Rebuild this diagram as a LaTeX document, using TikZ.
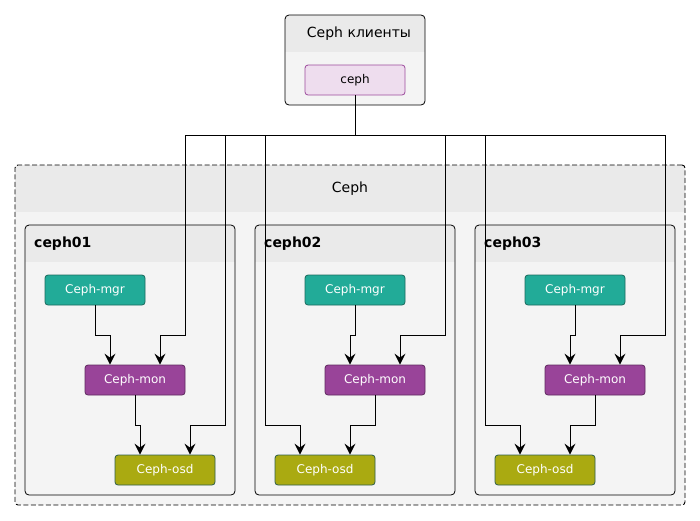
\documentclass[tikz,border=0pt]{standalone}
\usepackage{fontspec}
\setmainfont{DejaVu Sans}
\usetikzlibrary{arrows.meta}
\definecolor{pkgbg}{HTML}{F4F4F4}
\definecolor{pkghd}{HTML}{EAEAEA}
\definecolor{mgrc}{HTML}{22AB98}
\definecolor{mgrb}{HTML}{1B6A5E}
\definecolor{monc}{HTML}{994499}
\definecolor{monb}{HTML}{5E2A5E}
\definecolor{osdc}{HTML}{AAAA11}
\definecolor{osdb}{HTML}{2E5E4A}
\definecolor{clic}{HTML}{EEDDEE}
\definecolor{clib}{HTML}{9C4A9C}
\tikzset{
  svc/.style={draw, line width=0.8pt, rounded corners=3pt, minimum width=100pt, minimum height=30pt, inner sep=0pt, text=white, font=\fontsize{12}{14}\selectfont},
  mgrbox/.style={svc, fill=mgrc, draw=mgrb},
  monbox/.style={svc, fill=monc, draw=monb},
  osdbox/.style={svc, fill=osdc, draw=osdb},
  clibox/.style={svc, fill=clic, draw=clib, text=black},
  pkgtitle/.style={font=\fontsize{14}{16}\selectfont, inner sep=0pt},
  hosttitle/.style={font=\bfseries\fontsize{14}{16}\selectfont, inner sep=0pt, anchor=west},
  conn/.style={line width=1pt, -{Stealth[length=11pt,width=11pt,inset=4pt]}},
}
\begin{document}
\begin{tikzpicture}[x=1pt,y=-1pt]
\useasboundingbox (0,0) rectangle (700,520);
% clients package
\begin{scope}
  \clip[rounded corners=4pt] (285,15) rectangle (425,105);
  \fill[pkgbg] (285,15) rectangle (425,105);
  \fill[pkghd] (285,15) rectangle (425,52);
\end{scope}
\node[draw, line width=0.8pt, rounded corners=4pt, minimum width=140pt, minimum height=90pt, inner sep=0pt] (clipkg) at (355,60) {};
\node[pkgtitle] (clititle) at (359,34) {Ceph клиенты};
% Ceph outer package
\fill[pkgbg, rounded corners=3pt] (15,165) rectangle (685,505);
\begin{scope}
  \clip[rounded corners=3pt] (15,165) rectangle (685,505);
  \fill[pkghd] (15,165) rectangle (685,212);
\end{scope}
\node[draw, dash pattern=on 5pt off 2.5pt, line width=0.9pt, rounded corners=3pt, minimum width=670pt, minimum height=340pt, inner sep=0pt] (cephpkg) at (350,335) {};
\node[pkgtitle] (cephtitle) at (350,189) {Ceph};
% host packages
\foreach \n/\xa/\w in {1/25/210, 2/255/200, 3/475/200} {
  \begin{scope}
    \clip[rounded corners=4pt] (\xa,225) rectangle ({\xa+\w},495);
    \fill[pkgbg] (\xa,225) rectangle ({\xa+\w},495);
    \fill[pkghd] (\xa,225) rectangle ({\xa+\w},262);
  \end{scope}
  \node[draw, line width=0.8pt, rounded corners=4pt, minimum width=\w pt, minimum height=270pt, inner sep=0pt] (host\n) at ({\xa+\w/2},360) {};
}
\node[hosttitle] (t1) at (34,244) {ceph01};
\node[hosttitle] (t2) at (264,244) {ceph02};
\node[hosttitle] (t3) at (484,244) {ceph03};
% service nodes
\node[clibox] (cl) at (355,80) {ceph};
\node[mgrbox] (mgr1) at (95,290) {Ceph-mgr};
\node[monbox] (mon1) at (135,380) {Ceph-mon};
\node[osdbox] (osd1) at (165,470) {Ceph-osd};
\node[mgrbox] (mgr2) at (355,290) {Ceph-mgr};
\node[monbox] (mon2) at (375,380) {Ceph-mon};
\node[osdbox] (osd2) at (325,470) {Ceph-osd};
\node[mgrbox] (mgr3) at (575,290) {Ceph-mgr};
\node[monbox] (mon3) at (595,380) {Ceph-mon};
\node[osdbox] (osd3) at (545,470) {Ceph-osd};
% connectors inside hosts
\foreach \n in {1,2,3} {
  \draw[conn] (mgr\n.south) -- ++(0,30) -| ([xshift=-25pt]mon\n.north);
}
\draw[conn] (mon1.south) -- ++(0,30) -| ([xshift=-25pt]osd1.north);
\draw[conn] (mon2.south) -- ++(0,30) -| ([xshift=25pt]osd2.north);
\draw[conn] (mon3.south) -- ++(0,30) -| ([xshift=25pt]osd3.north);
% connectors from client
\draw[conn] (cl.south) |- (185,135) -- (185,335) -| ([xshift=25pt]mon1.north);
\draw[conn] (cl.south) |- (225,135) -- (225,425) -| ([xshift=25pt]osd1.north);
\draw[conn] (cl.south) |- (265,135) -- (265,425) -| ([xshift=-25pt]osd2.north);
\draw[conn] (cl.south) |- (445,135) -- (445,335) -| ([xshift=25pt]mon2.north);
\draw[conn] (cl.south) |- (485,135) -- (485,425) -| ([xshift=-25pt]osd3.north);
\draw[conn] (cl.south) |- (665,135) -- (665,335) -| ([xshift=25pt]mon3.north);
\end{tikzpicture}
\end{document}
